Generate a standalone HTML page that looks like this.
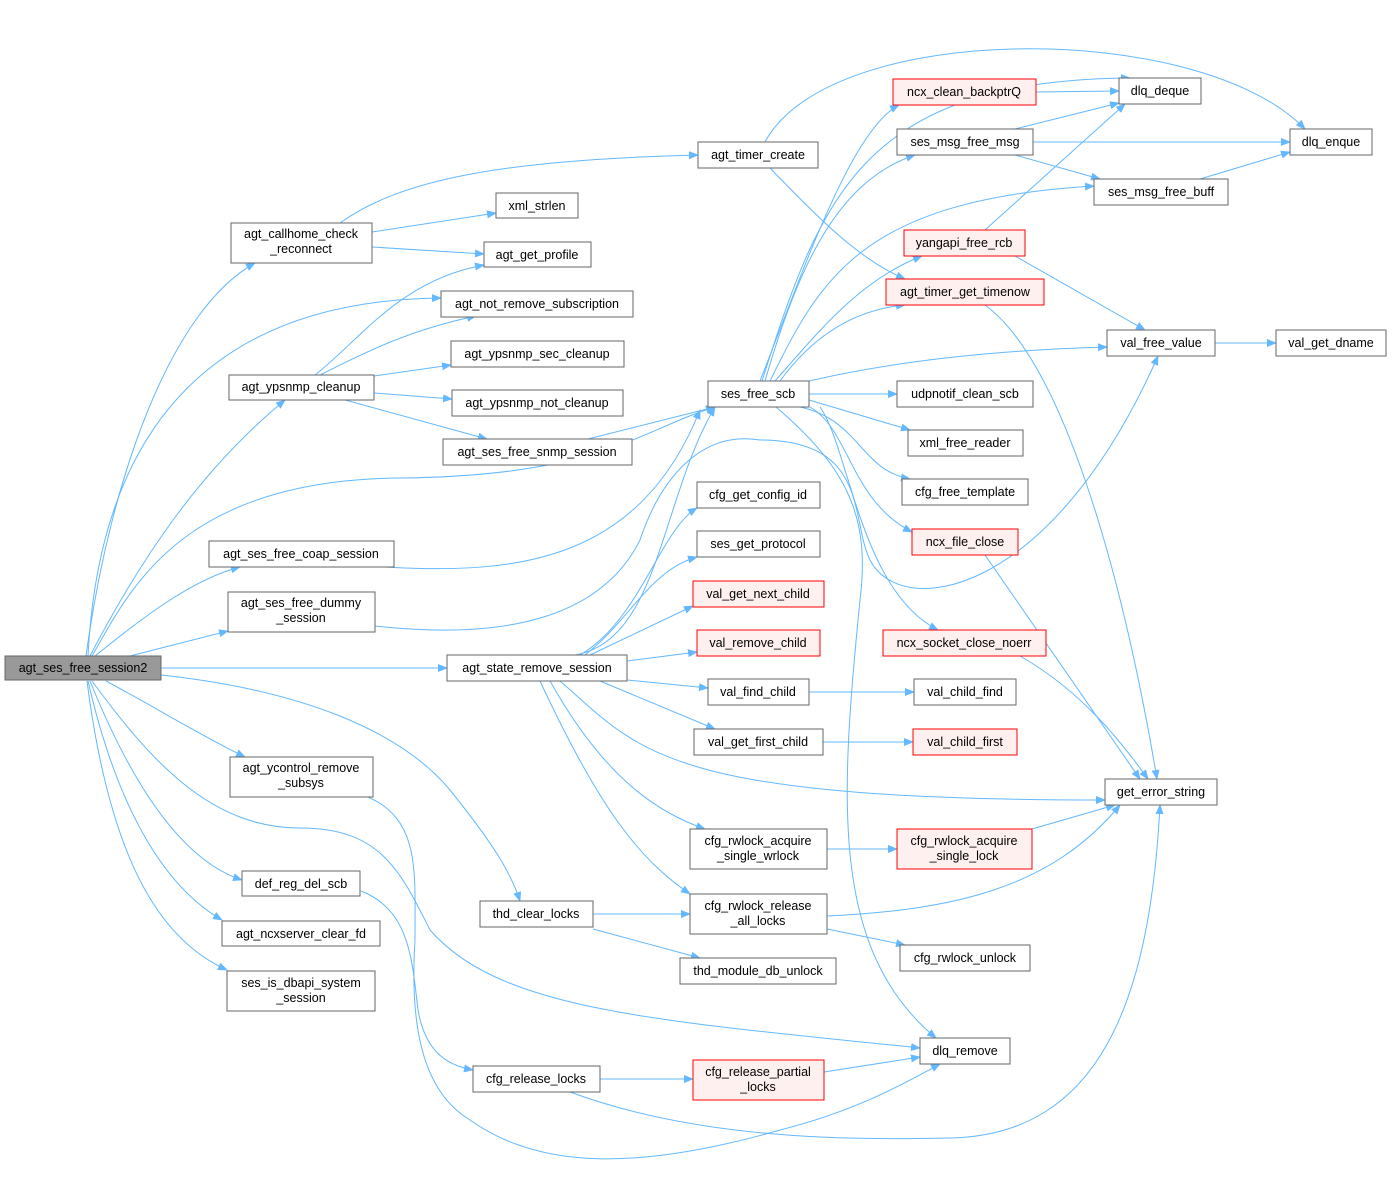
<!DOCTYPE html>
<html><head><meta charset="utf-8"><style>
html,body{margin:0;padding:0;background:#fff}
svg text{font-family:"Liberation Sans",Arial,sans-serif;font-size:12.5px;fill:#000;text-anchor:middle}
.n{fill:#fff;stroke:#666;stroke-width:1}
.r{fill:#fff0f0;stroke:#f00;stroke-width:1}
.e{fill:none;stroke:#63b8ff;stroke-width:1}
</style></head><body>
<svg width="1392" height="1172" viewBox="0 0 1392 1172" xmlns="http://www.w3.org/2000/svg">
<defs><marker id="a" markerWidth="10" markerHeight="8" refX="9" refY="4" orient="auto" markerUnits="userSpaceOnUse"><path d="M0,0 L10,4 L0,8 z" fill="#63b8ff"/></marker></defs>
<g class="e" marker-end="url(#a)">
<!-- root edges -->
<path d="M86,656 C110,480 170,310 255,263"/>
<path d="M90,656 C140,560 200,470 285,400"/>
<path d="M88,656 C100,420 220,300 441,298"/>
<path d="M92,656 C130,590 180,480 400,478 C600,476 640,430 715,407"/>
<path d="M95,656 C140,620 190,580 240,567"/>
<path d="M130,656 L228,631"/>
<path d="M161,668 L447,668"/>
<path d="M106,681 C160,710 200,735 245,757"/>
<path d="M90,681 C130,780 180,860 242,880"/>
<path d="M88,681 C120,820 170,890 222,920"/>
<path d="M87,681 C110,860 160,940 227,970"/>
<path d="M161,675 C300,690 400,730 450,790 C490,840 510,870 520,901"/>
<path d="M92,681 C150,760 210,828 300,828 C380,828 400,870 430,930 C500,1010 650,1020 920,1048"/>
<path d="M368,797 C420,820 415,870 415,940 C410,1020 420,1090 470,1120 C540,1170 640,1170 780,1130 C860,1110 910,1080 940,1064"/>
<path d="M361,891 C410,910 412,960 418,1010 C425,1050 445,1065 473,1070"/>
<!-- callhome -->
<path d="M340,223 C400,180 500,160 698,155"/>
<path d="M372,232 L496,213"/>
<path d="M372,247 L484,254"/>
<!-- ypsnmp -->
<path d="M315,375 C360,340 400,280 484,265"/>
<path d="M320,375 C370,350 410,330 476,316"/>
<path d="M374,376 L451,365"/>
<path d="M374,393 L452,399"/>
<path d="M345,400 L487,439"/>
<path d="M588,439 L715,407"/>
<!-- coap / dummy -->
<path d="M385,567 C520,575 640,560 700,410"/>
<path d="M375,626 C500,640 600,620 640,540 C660,480 700,430 760,440 C870,440 850,520 870,560 C900,620 1050,600 1158,356"/>
<!-- state_remove -->
<path d="M575,655 C660,640 660,500 715,407"/>
<path d="M580,655 C640,620 660,530 697,508"/>
<path d="M585,655 C630,620 650,570 697,557"/>
<path d="M590,655 L693,606"/>
<path d="M627,661 L697,652"/>
<path d="M627,680 L708,688"/>
<path d="M600,681 L715,729"/>
<path d="M560,681 C640,750 660,800 1105,800"/>
<path d="M550,681 C600,770 650,810 705,829"/>
<path d="M540,681 C600,810 640,860 690,894"/>
<!-- timer_create -->
<path d="M765,142 C830,20 1200,20 1305,129"/>
<path d="M770,168 C820,220 860,260 905,279"/>
<!-- ses_free_scb -->
<path d="M760,381 C800,280 850,130 899,105"/>
<path d="M762,381 C820,200 860,80 1130,78"/>
<path d="M765,381 C800,260 840,180 915,155"/>
<path d="M770,381 C820,280 860,200 1094,186"/>
<path d="M775,381 C820,330 860,280 922,256"/>
<path d="M780,381 C810,340 850,310 905,305"/>
<path d="M809,381 C900,360 1000,350 1107,347"/>
<path d="M809,394 L897,394"/>
<path d="M809,400 L910,430"/>
<path d="M800,407 C860,420 860,470 910,479"/>
<path d="M810,407 C850,430 850,500 912,532"/>
<path d="M820,407 C850,450 860,590 938,630"/>
<path d="M776,407 C850,470 870,520 860,600 C840,800 830,950 936,1038"/>
<!-- right side -->
<path d="M1036,92 L1119,91"/>
<path d="M1015,129 L1119,103"/>
<path d="M1033,142 L1290,142"/>
<path d="M1015,155 L1100,179"/>
<path d="M1200,179 L1290,152"/>
<path d="M985,230 L1125,104"/>
<path d="M1015,256 L1145,330"/>
<path d="M985,305 C1060,360 1120,560 1157,779"/>
<path d="M1215,343 L1276,343"/>
<path d="M985,555 L1140,779"/>
<path d="M1020,656 C1080,690 1120,740 1148,779"/>
<path d="M809,692 L914,692"/>
<path d="M823,742 L913,742"/>
<path d="M827,849 L897,849"/>
<path d="M1032,829 L1115,805"/>
<path d="M827,916 C950,910 1050,890 1120,805"/>
<path d="M827,929 L905,945"/>
<path d="M593,914 L690,914"/>
<path d="M593,929 L700,958"/>
<path d="M600,1079 L693,1079"/>
<path d="M824,1072 L920,1057"/>
<path d="M570,1092 C700,1140 850,1140 950,1138 C1100,1135 1150,1000 1160,805"/>
</g>
<g>
<rect class="n" x="5" y="656" width="156" height="24" style="fill:#999"/><text x="83" y="672">agt_ses_free_session2</text>
<rect class="n" x="231" y="223" width="141" height="40"/><text x="301" y="238">agt_callhome_check</text><text x="301" y="253">_reconnect</text>
<rect class="n" x="229" y="375" width="145" height="25"/><text x="301" y="391">agt_ypsnmp_cleanup</text>
<rect class="n" x="209" y="541" width="185" height="26"/><text x="301" y="558">agt_ses_free_coap_session</text>
<rect class="n" x="228" y="592" width="147" height="40"/><text x="301" y="607">agt_ses_free_dummy</text><text x="301" y="622">_session</text>
<rect class="n" x="230" y="757" width="143" height="40"/><text x="301" y="772">agt_ycontrol_remove</text><text x="301" y="787">_subsys</text>
<rect class="n" x="242" y="871" width="118" height="25"/><text x="301" y="888">def_reg_del_scb</text>
<rect class="n" x="222" y="921" width="158" height="25"/><text x="301" y="938">agt_ncxserver_clear_fd</text>
<rect class="n" x="227" y="971" width="148" height="40"/><text x="301" y="987">ses_is_dbapi_system</text><text x="301" y="1002">_session</text>
<rect class="n" x="698" y="142" width="120" height="26"/><text x="758" y="159">agt_timer_create</text>
<rect class="n" x="496" y="193" width="82" height="25"/><text x="537" y="210">xml_strlen</text>
<rect class="n" x="484" y="242" width="107" height="25"/><text x="537" y="259">agt_get_profile</text>
<rect class="n" x="441" y="291" width="192" height="26"/><text x="537" y="308">agt_not_remove_subscription</text>
<rect class="n" x="451" y="341" width="173" height="26"/><text x="537" y="358">agt_ypsnmp_sec_cleanup</text>
<rect class="n" x="452" y="390" width="171" height="26"/><text x="537" y="407">agt_ypsnmp_not_cleanup</text>
<rect class="n" x="443" y="439" width="189" height="26"/><text x="537" y="456">agt_ses_free_snmp_session</text>
<rect class="n" x="447" y="655" width="180" height="26"/><text x="537" y="672">agt_state_remove_session</text>
<rect class="n" x="480" y="901" width="113" height="26"/><text x="536" y="918">thd_clear_locks</text>
<rect class="n" x="473" y="1066" width="127" height="26"/><text x="536" y="1083">cfg_release_locks</text>
<rect class="n" x="708" y="381" width="101" height="26"/><text x="758" y="398">ses_free_scb</text>
<rect class="n" x="697" y="482" width="123" height="26"/><text x="758" y="499">cfg_get_config_id</text>
<rect class="n" x="697" y="531" width="123" height="26"/><text x="758" y="548">ses_get_protocol</text>
<rect class="r" x="693" y="581" width="131" height="26"/><text x="758" y="598">val_get_next_child</text>
<rect class="r" x="697" y="630" width="123" height="26"/><text x="758" y="647">val_remove_child</text>
<rect class="n" x="708" y="679" width="101" height="26"/><text x="758" y="696">val_find_child</text>
<rect class="n" x="694" y="729" width="129" height="26"/><text x="758" y="746">val_get_first_child</text>
<rect class="n" x="690" y="829" width="137" height="40"/><text x="758" y="845">cfg_rwlock_acquire</text><text x="758" y="860">_single_wrlock</text>
<rect class="n" x="690" y="894" width="137" height="40"/><text x="758" y="910">cfg_rwlock_release</text><text x="758" y="925">_all_locks</text>
<rect class="n" x="680" y="958" width="156" height="26"/><text x="758" y="975">thd_module_db_unlock</text>
<rect class="r" x="693" y="1060" width="131" height="40"/><text x="758" y="1076">cfg_release_partial</text><text x="758" y="1091">_locks</text>
<rect class="r" x="893" y="79" width="143" height="26"/><text x="964" y="96">ncx_clean_backptrQ</text>
<rect class="n" x="897" y="129" width="136" height="26"/><text x="965" y="146">ses_msg_free_msg</text>
<rect class="r" x="904" y="230" width="121" height="26"/><text x="964" y="247">yangapi_free_rcb</text>
<rect class="r" x="886" y="279" width="158" height="26"/><text x="965" y="296">agt_timer_get_timenow</text>
<rect class="n" x="897" y="381" width="136" height="26"/><text x="965" y="398">udpnotif_clean_scb</text>
<rect class="n" x="908" y="430" width="115" height="26"/><text x="965" y="447">xml_free_reader</text>
<rect class="n" x="902" y="479" width="126" height="26"/><text x="965" y="496">cfg_free_template</text>
<rect class="r" x="912" y="529" width="106" height="26"/><text x="965" y="546">ncx_file_close</text>
<rect class="r" x="883" y="630" width="163" height="26"/><text x="964" y="647">ncx_socket_close_noerr</text>
<rect class="n" x="914" y="679" width="102" height="26"/><text x="965" y="696">val_child_find</text>
<rect class="r" x="913" y="729" width="104" height="26"/><text x="965" y="746">val_child_first</text>
<rect class="r" x="897" y="829" width="135" height="40"/><text x="964" y="845">cfg_rwlock_acquire</text><text x="964" y="860">_single_lock</text>
<rect class="n" x="900" y="945" width="130" height="26"/><text x="965" y="962">cfg_rwlock_unlock</text>
<rect class="n" x="920" y="1038" width="90" height="26"/><text x="965" y="1055">dlq_remove</text>
<rect class="n" x="1119" y="78" width="82" height="26"/><text x="1160" y="95">dlq_deque</text>
<rect class="n" x="1290" y="129" width="82" height="26"/><text x="1331" y="146">dlq_enque</text>
<rect class="n" x="1094" y="179" width="134" height="26"/><text x="1161" y="196">ses_msg_free_buff</text>
<rect class="n" x="1107" y="330" width="108" height="26"/><text x="1161" y="347">val_free_value</text>
<rect class="n" x="1276" y="330" width="110" height="26"/><text x="1331" y="347">val_get_dname</text>
<rect class="n" x="1105" y="779" width="112" height="26"/><text x="1161" y="796">get_error_string</text>
</g>
</svg>
</body></html>
